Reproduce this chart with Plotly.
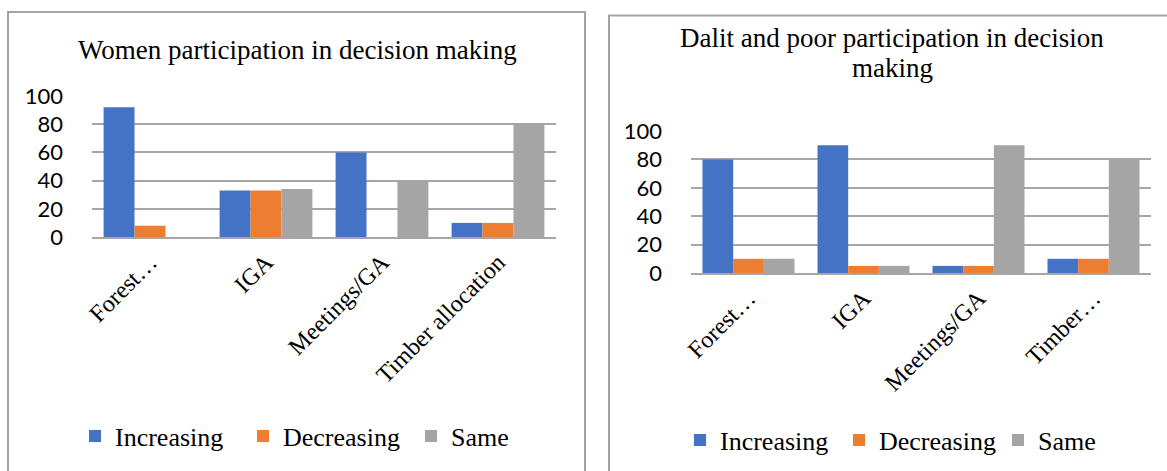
import plotly.graph_objects as go

# ---- data -------------------------------------------------------------
series_names = ["Increasing", "Decreasing", "Same"]
series_colors = ["#4472C4", "#ED7D31", "#A5A5A5"]

women_categories = ["Forest…", "IGA", "Meetings/GA", "Timber allocation"]
women_increasing = [92, 33, 60, 10]
women_decreasing = [8, 33, 0, 10]
women_same = [0, 34, 40, 80]

dalit_categories = ["Forest…", "IGA", "Meetings/GA", "Timber…"]
dalit_increasing = [80, 90, 5, 10]
dalit_decreasing = [10, 5, 5, 10]
dalit_same = [10, 5, 90, 80]

y_ticks = [0, 20, 40, 60, 80, 100]

women_title = "Women participation in decision making"
dalit_title_lines = ["Dalit and poor participation in decision", "making"]

# ---- layout helpers (pixel geometry of a 1167 x 471 page) -------------
W, H = 1167, 471


def px_x(x):
    return x / W


def px_y(y):
    return 1 - y / H


SERIF = "Liberation Serif, Times New Roman, serif"
SANS = "Lato, Calibri, Arial, sans-serif"
GRID = "#a6a6a6"

fig = go.Figure()

women_values = [women_increasing, women_decreasing, women_same]
dalit_values = [dalit_increasing, dalit_decreasing, dalit_same]

for name, color, vals in zip(series_names, series_colors, women_values):
    fig.add_trace(go.Bar(
        x=women_categories, y=vals, name=name,
        marker=dict(color=color, line=dict(width=0)),
        xaxis="x", yaxis="y", legend="legend", hoverinfo="skip",
    ))

for name, color, vals in zip(series_names, series_colors, dalit_values):
    fig.add_trace(go.Bar(
        x=dalit_categories, y=vals, name=name,
        marker=dict(color=color, line=dict(width=0)),
        xaxis="x2", yaxis="y2", legend="legend2", hoverinfo="skip",
    ))

xaxis_common = dict(
    type="category", showgrid=False, zeroline=False,
    showline=True, linecolor=GRID, linewidth=1.5,
    ticks="", tickangle=-45,
    tickfont=dict(family=SERIF, size=24, color="#000000"),
    fixedrange=True,
)
yaxis_common = dict(
    range=[0, 100], tickvals=y_ticks, showgrid=True, gridcolor=GRID,
    gridwidth=1.5, zeroline=False, showline=False, ticks="",
    tickfont=dict(family=SANS, size=22, color="#000000"),
    ticklabelstandoff=28, fixedrange=True,
)

legend_common = dict(
    orientation="h", xanchor="left", yanchor="middle",
    font=dict(family=SERIF, size=26, color="#000000"),
    bgcolor="rgba(0,0,0,0)", itemclick=False, itemdoubleclick=False,
    entrywidthmode="pixels", tracegroupgap=0,
)

fig.update_layout(
    width=W, height=H,
    margin=dict(l=0, r=0, t=0, b=0, autoexpand=False),
    paper_bgcolor="white", plot_bgcolor="white",
    barmode="group", bargap=0.2, bargroupgap=0,
    xaxis=dict(domain=[px_x(92), px_x(556)], anchor="y", **xaxis_common),
    yaxis=dict(domain=[px_y(237), px_y(96)], anchor="x", **yaxis_common),
    xaxis2=dict(domain=[px_x(691), px_x(1151)], anchor="y2", **xaxis_common),
    yaxis2=dict(domain=[px_y(273), px_y(131)], anchor="x2", **yaxis_common),
    legend=dict(x=px_x(75), y=px_y(436), entrywidth=123, **legend_common),
    legend2=dict(x=px_x(680), y=px_y(440), entrywidth=114, **legend_common),
    showlegend=True,
)

# chart frames
fig.add_shape(type="rect", xref="paper", yref="paper",
              x0=px_x(8), x1=px_x(585), y0=-0.05, y1=px_y(12),
              line=dict(color="#a3a3a3", width=2), layer="below")
fig.add_shape(type="rect", xref="paper", yref="paper",
              x0=px_x(609), x1=1.05, y0=-0.05, y1=px_y(15.5),
              line=dict(color="#a3a3a3", width=2), layer="below")

# chart titles
fig.add_annotation(text=women_title,
                   xref="paper", yref="paper", x=px_x(297), y=px_y(50),
                   xanchor="center", yanchor="middle", showarrow=False,
                   font=dict(family=SERIF, size=27, color="#000000"))
for line_text, line_y in zip(dalit_title_lines, [38, 68]):
    fig.add_annotation(text=line_text,
                       xref="paper", yref="paper", x=px_x(892), y=px_y(line_y),
                       xanchor="center", yanchor="middle", showarrow=False,
                       font=dict(family=SERIF, size=27, color="#000000"))

fig.write_html("out.html")
